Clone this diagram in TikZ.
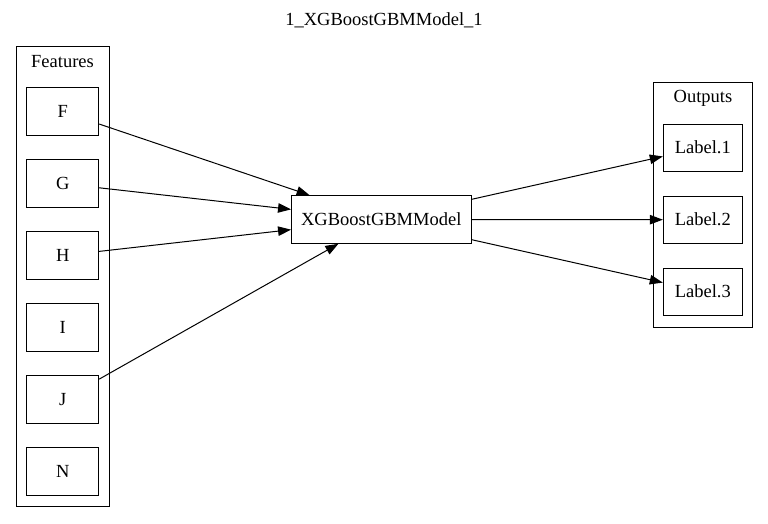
\documentclass[tikz,border=0pt]{standalone}
\usepackage{fontspec}
\setmainfont{Liberation Serif}
\usetikzlibrary{arrows.meta}
\begin{document}
\begin{tikzpicture}[x=1pt,y=-1pt,
  box/.style={draw=black,line width=1pt,inner sep=0pt,font=\fontsize{18.5}{21}\selectfont},
  fbox/.style={box,minimum width=72pt,minimum height=48pt},
  obox/.style={box,minimum width=79pt,minimum height=47pt},
  clus/.style={draw=black,line width=1pt,inner sep=0pt},
  lbl/.style={inner sep=0pt,font=\fontsize{18.5}{21}\selectfont},
  edge/.style={line width=1pt,-{Triangle[length=13pt,width=9.5pt]}}]
\useasboundingbox (0,0) rectangle (768,523);
\node[lbl] (title) at (384,20) {1\_XGBoostGBMModel\_1};
% clusters
\node[clus,minimum width=93pt,minimum height=460pt] (feat) at (62.5,276) {};
\node[lbl] (featlbl) at (62.5,61.5) {Features};
\node[clus,minimum width=99pt,minimum height=245pt] (outs) at (703,204.8) {};
\node[lbl] (outslbl) at (703,98) {Outputs};
% feature nodes
\node[fbox] (F) at (62.7,111.7) {F};
\node[fbox] (G) at (62.7,183.7) {G};
\node[fbox] (H) at (62.7,255.5) {H};
\node[fbox] (I) at (62.7,327.7) {I};
\node[fbox] (J) at (62.7,399.7) {J};
\node[fbox] (N) at (62.7,471.7) {N};
% model
\node[box,minimum width=179.5pt,minimum height=47.6pt] (M) at (381.3,219.5) {XGBoostGBMModel};
% outputs
\node[obox] (L1) at (702.8,147.5) {Label.1};
\node[obox] (L2) at (702.8,219.7) {Label.2};
\node[obox] (L3) at (702.8,291.5) {Label.3};
% edges
\draw[edge] (F) -- (M);
\draw[edge] (G) -- (M);
\draw[edge] (H) -- (M);
\draw[edge] (J) -- (M);
\draw[edge] (M) -- (L1);
\draw[edge] (M) -- (L2);
\draw[edge] (M) -- (L3);
\end{tikzpicture}
\end{document}
